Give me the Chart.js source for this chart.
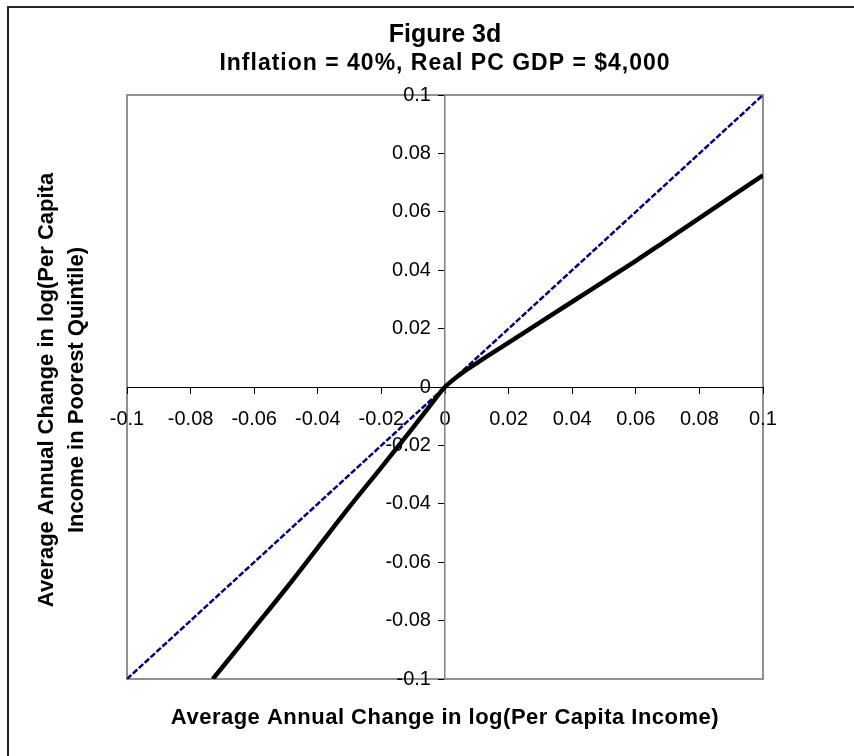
<!DOCTYPE html>
<html>
<head>
<meta charset="utf-8">
<script src="https://cdn.jsdelivr.net/npm/chart.js@4.4.1/dist/chart.umd.min.js"></script>
<style>
html, body { margin: 0; padding: 0; background: #fff; }
#wrap { width: 854px; height: 756px; position: relative; }
</style>
</head>
<body>
<div id="wrap"><canvas id="chart_figure3d"></canvas></div>
<script>
// tick labels
var xTickLabels = ['-0.1', '-0.08', '-0.06', '-0.04', '-0.02', '0', '0.02', '0.04', '0.06', '0.08', '0.1'];
var yTickLabels = ['-0.1', '-0.08', '-0.06', '-0.04', '-0.02', '0', '0.02', '0.04', '0.06', '0.08', '0.1'];

// 45 degree reference line (blue, dashed)
var equalX = [-0.1, -0.08, -0.06, -0.04, -0.02, 0, 0.02, 0.04, 0.06, 0.08, 0.1];
var equalY = [-0.1, -0.08, -0.06, -0.04, -0.02, 0, 0.02, 0.04, 0.06, 0.08, 0.1];

// poorest quintile (black)
var poorX = [-0.073, -0.06, -0.05, -0.04, -0.03, -0.02, -0.01, -0.005, 0, 0.005, 0.01, 0.02, 0.03, 0.04, 0.05, 0.06, 0.07, 0.08, 0.09, 0.1];
var poorY = [-0.1, -0.0825, -0.069, -0.055, -0.041, -0.0275, -0.0138, -0.0068, 0, 0.0045, 0.0082, 0.0152, 0.0222, 0.0292, 0.0362, 0.0432, 0.0505, 0.0578, 0.0652, 0.0725];

var titleText = 'Figure 3d';
var subtitleText = 'Inflation = 40%, Real PC GDP = $4,000';
var xTitle = 'Average Annual Change in log(Per Capita Income)';
var yTitle = ['Average Annual Change in log(Per Capita', 'Income in Poorest Quintile)'];

var FONT = 'Arial, "Liberation Sans", sans-serif';
Chart.defaults.font.family = FONT;
Chart.defaults.color = '#000';

function pts(xs, ys) {
    return xs.map(function (x, i) { return { x: x, y: ys[i] }; });
}

var chart_figure3d = new Chart(document.getElementById('chart_figure3d'), {
    type: 'scatter',
    data: {
        datasets: [
            {
                label: 'Poorest quintile',
                data: pts(poorX, poorY),
                showLine: true,
                borderColor: '#000',
                borderWidth: 4.5,
                pointRadius: 0,
                cubicInterpolationMode: 'monotone'
            },
            {
                label: '45 degree line',
                data: pts(equalX, equalY),
                showLine: true,
                borderColor: '#000080',
                borderWidth: 2.5,
                borderDash: [6, 2],
                pointRadius: 0,
                tension: 0
            }
        ]
    },
    options: {
        animation: false,
        responsive: true,
        maintainAspectRatio: false,
        layout: {
            padding: { left: 127, right: 91, top: 0, bottom: 77 }
        },
        plugins: {
            legend: { display: false },
            tooltip: { enabled: false },
            title: {
                display: true,
                text: titleText,
                color: '#000',
                font: { size: 25, weight: 'bold' },
                padding: { top: 20, bottom: 45 }
            }
        },
        scales: {
            x: {
                type: 'linear',
                min: -0.1,
                max: 0.1,
                position: { y: 0 },
                grid: { drawOnChartArea: false, tickLength: 6, color: '#000' },
                border: { color: '#000', width: 1 },
                ticks: {
                    stepSize: 0.02,
                    padding: 14,
                    maxRotation: 0,
                    autoSkip: false,
                    font: { size: 20 },
                    callback: function (v, i) { return xTickLabels[i]; }
                }
            },
            y: {
                type: 'linear',
                min: -0.1,
                max: 0.1,
                position: { x: 0 },
                grid: { drawOnChartArea: false, tickLength: 6, color: '#000' },
                border: { color: '#808080', width: 1.5 },
                ticks: {
                    stepSize: 0.02,
                    autoSkip: false,
                    font: { size: 20 },
                    // trailing spaces keep the labels clear of the centred axis
                    callback: function (v, i) { return yTickLabels[i] + '\u2002\u2009'; }
                }
            }
        }
    },
    plugins: [{
        id: 'frame',
        beforeDraw: (chart) => {
            const ctx = chart.ctx;
            const a = chart.chartArea;
            ctx.save();
            ctx.fillStyle = 'white';
            ctx.fillRect(0, 0, chart.width, chart.height);
            // outer figure border (only left and top visible)
            ctx.strokeStyle = '#222';
            ctx.lineWidth = 2;
            ctx.beginPath();
            ctx.moveTo(8, chart.height + 5);
            ctx.lineTo(8, 7);
            ctx.lineTo(chart.width + 5, 7);
            ctx.stroke();
            // plot area border
            ctx.strokeStyle = '#909090';
            ctx.lineWidth = 2;
            ctx.strokeRect(a.left, a.top, a.right - a.left, a.bottom - a.top);
            ctx.restore();
        },
        afterDraw: (chart) => {
            const ctx = chart.ctx;
            const a = chart.chartArea;
            const cx = (a.left + a.right) / 2;
            ctx.save();
            ctx.fillStyle = '#000';
            ctx.textAlign = 'center';
            ctx.textBaseline = 'middle';
            ctx.font = 'bold 23px ' + FONT;
            ctx.letterSpacing = '1px';
            ctx.fillText(subtitleText, cx, 64);
            ctx.font = 'bold 22px ' + FONT;
            ctx.letterSpacing = '0.5px';
            ctx.fillText(xTitle, cx, 718);
            ctx.letterSpacing = '0px';
            ctx.translate(0, 390);
            ctx.rotate(-Math.PI / 2);
            ctx.fillText(yTitle[0], 0, 47);
            ctx.fillText(yTitle[1], 0, 77);
            ctx.restore();
        }
    }]
});
</script>
</body>
</html>
